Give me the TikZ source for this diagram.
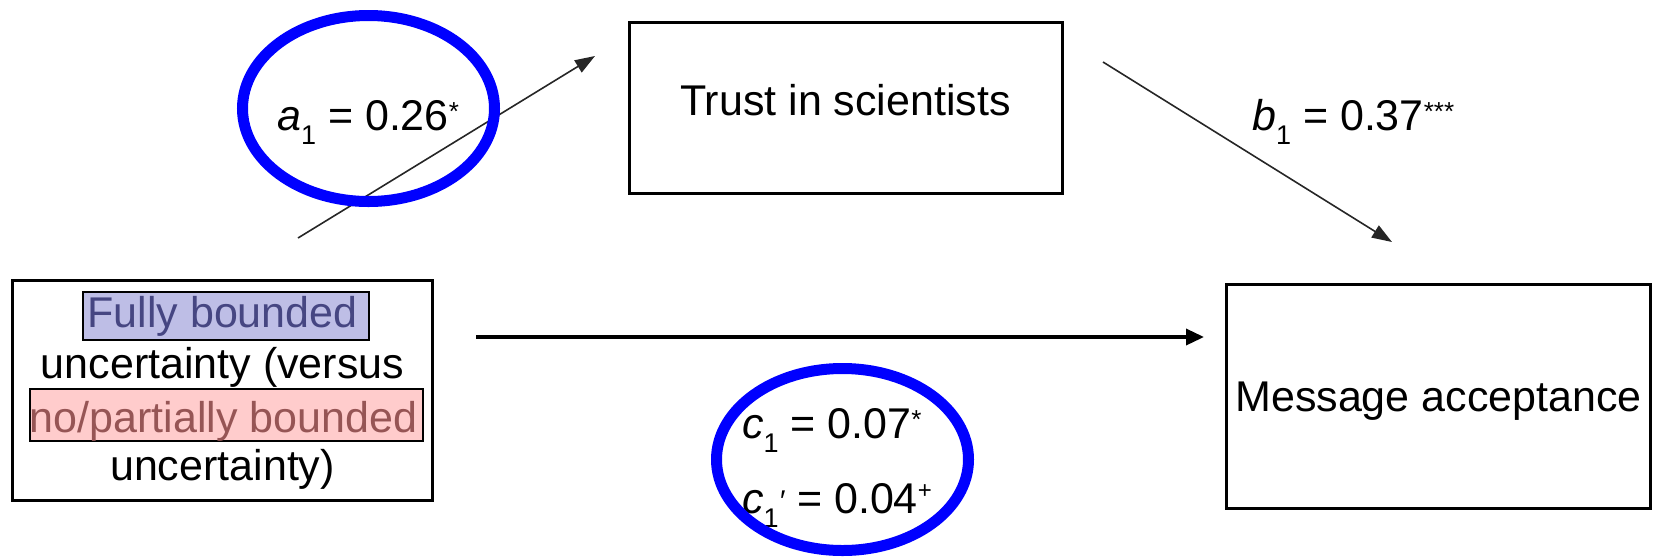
\documentclass[tikz,border=0pt]{standalone}
\usepackage{fontspec}
\setmainfont{Liberation Sans}
\usetikzlibrary{arrows.meta}
\definecolor{hlblue}{RGB}{190,190,230}
\definecolor{hlpink}{RGB}{255,204,204}
\definecolor{txtblue}{RGB}{70,70,130}
\definecolor{txtpink}{RGB}{150,85,85}
\definecolor{ringblue}{RGB}{0,0,255}
\newcommand{\mysub}[1]{\raisebox{-14pt}{\fontsize{27}{27}\selectfont #1}}
\newcommand{\mysup}[1]{\raisebox{10pt}{\fontsize{26}{26}\selectfont #1}}
\newcommand{\myplus}[1]{\raisebox{15pt}{\fontsize{24}{24}\selectfont #1}}
\begin{document}
\begin{tikzpicture}[x=1pt,y=-1pt,
  boxshape/.style={draw, line width=3pt, rectangle, inner sep=0pt},
  hlbox/.style={draw, line width=2pt, rectangle, inner sep=0pt},
  txt/.style={anchor=base, inner sep=0pt, font=\fontsize{43}{51}\selectfont},
  ring/.style={draw=ringblue, line width=11pt},
  thinarrow/.style={draw=black!85, line width=1.6pt, -{Triangle[length=20pt,width=14pt]}},
  thickarrow/.style={draw=black, line width=3.5pt, -{Triangle[length=18pt,width=16pt]}}
]
\useasboundingbox (0,0) rectangle (1658,558);

% boxes
\node[boxshape, minimum width=433pt, minimum height=171pt] (trust) at (845.5,107.5) {};
\node[txt] (trusttxt) at (845.5,115) {Trust in scientists};

\node[boxshape, minimum width=424pt, minimum height=224pt] (msg) at (1438.6,396.6) {};
\node[txt] (msgtxt) at (1438.5,411) {Message acceptance};

\node[boxshape, minimum width=420pt, minimum height=220pt] (iv) at (222,390.7) {};
\node[hlbox, fill=hlblue, minimum width=286pt, minimum height=48pt] (fbbox) at (226.4,316) {};
\node[hlbox, fill=hlpink, minimum width=393pt, minimum height=52pt] (pbbox) at (226.2,414.8) {};
\node[txt, text=txtblue] (l1) at (222.5,327) {Fully bounded};
\node[txt] (l2) at (222.5,378) {uncertainty (versus};
\node[txt, text=txtpink] (l3) at (223.5,432) {no/partially bounded};
\node[txt] (l4) at (222.5,480) {uncertainty)};

% arrows
\coordinate (astart) at (298,238);
\coordinate (aend) at (595,56);
\coordinate (bstart) at (1103,62);
\coordinate (bend) at (1392,242);
\coordinate (cstart) at (476,337);
\coordinate (cend) at (1204,337);
\draw[thinarrow] (astart) -- (aend);
\draw[thinarrow] (bstart) -- (bend);
\draw[thickarrow] (cstart) -- (cend);

% labels
\node[txt, anchor=base west] (alab) at (277,130) {\textit{a}\mysub{1} = 0.26\mysup{*}};
\node[txt, anchor=base west] (blab) at (1252,130) {\textit{b}\mysub{1} = 0.37\mysup{***}};
\node[txt, anchor=base west] (clab) at (742,438) {\textit{c}\mysub{1} = 0.07\mysup{*}};
\node[txt, anchor=base west] (cplab) at (742,513) {\textit{c}\mysub{1}\raisebox{2pt}{\fontsize{30}{30}\selectfont\textit{′}} = 0.04\myplus{+}};

% highlight rings
\draw[ring] (368.5,108.5) ellipse [x radius=126, y radius=93];
\draw[ring] (842.5,459.5) ellipse [x radius=126, y radius=91];
\end{tikzpicture}
\end{document}
